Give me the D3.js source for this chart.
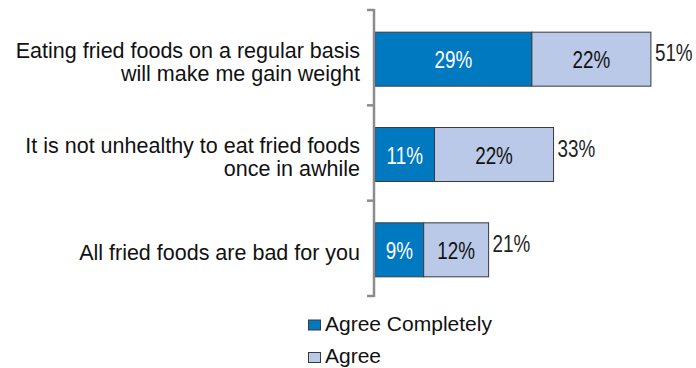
<!DOCTYPE html>
<html>
<head>
<meta charset="utf-8">
<script src="https://cdn.jsdelivr.net/npm/d3@7"></script>
<style>
  html, body { margin: 0; padding: 0; background: #fff; }
  svg { display: block; font-family: "Liberation Sans", Arial, Helvetica, sans-serif; }
</style>
</head>
<body>
<svg id="chart" width="696" height="368"></svg>
<script>
// Survey statements (two-line labels split on "|")
const categories = [
  "Eating fried foods on a regular basis|will make me gain weight",
  "It is not unhealthy to eat fried foods|once in awhile",
  "All fried foods are bad for you"
];
const seriesNames = ["Agree Completely", "Agree"];
const agreeCompletely = [29, 11, 9];
const agree = [22, 22, 12];
const totals = [51, 33, 21];

const colors = ["#0079C1", "#B9C9E7"];
const textColors = ["#ffffff", "#111111"];

const svg = d3.select("#chart");

const axisX = 374;
const x = d3.scaleLinear().domain([0, 100]).range([axisX + 1, axisX + 1 + 541]);
const y = d3.scaleBand().domain(d3.range(categories.length)).range([10, 296]);
const barH = 54;
const barOffset = (y.bandwidth() - barH) / 2 + 1.5;
const numScale = 0.82;   // condensed look for the percentage figures
const numSize = 23;

// stacked layout
const rows = categories.map((c, i) => ({ i, ac: agreeCompletely[i], a: agree[i], total: totals[i] }));
const stack = d3.stack().keys(["ac", "a"]);
const layers = stack(rows);

const g = svg.append("g");
layers.forEach((layer, li) => {
  g.selectAll(null)
    .data(layer)
    .enter()
    .append("rect")
    .attr("x", d => x(d[0]))
    .attr("y", (d, i) => y(i) + barOffset)
    .attr("width", d => x(d[1]) - x(d[0]))
    .attr("height", barH)
    .attr("fill", colors[li])
    .attr("stroke", "#3a3a3a")
    .attr("stroke-width", 1);

  g.selectAll(null)
    .data(layer)
    .enter()
    .append("text")
    .attr("transform", (d, i) =>
      `translate(${(x(d[0]) + x(d[1])) / 2},${y(i) + barOffset + barH / 2 + 1}) scale(${numScale},1)`)
    .attr("dy", "0.36em")
    .attr("text-anchor", "middle")
    .attr("font-size", numSize)
    .attr("fill", textColors[li])
    .text(d => (d[1] - d[0]) + "%");
});

// totals beside each bar
g.selectAll(null)
  .data(rows)
  .enter()
  .append("text")
  .attr("transform", d =>
    `translate(${x(d.total) + 4},${y(d.i) + barOffset + barH / 2 - 6}) scale(${numScale},1)`)
  .attr("dy", "0.36em")
  .attr("font-size", numSize)
  .attr("fill", "#222")
  .text(d => d.total + "%");

// vertical category axis with boundary ticks
const axisG = svg.append("g").attr("stroke", "#8c8c8c").attr("stroke-width", 2.5);
axisG.append("line")
  .attr("x1", axisX).attr("x2", axisX)
  .attr("y1", y.range()[0] - 1).attr("y2", y.range()[1] + 1);
const tickYs = d3.range(categories.length).map(i => y(i)).concat([y.range()[1]]);
axisG.selectAll(null)
  .data(tickYs)
  .enter()
  .append("line")
  .attr("x1", axisX - 7).attr("x2", axisX)
  .attr("y1", d => d).attr("y2", d => d);

// category labels
const labels = svg.append("g");
categories.forEach((c, i) => {
  const lines = c.split("|");
  const cy = y(i) + barOffset + barH / 2 + 2.5;
  const lh = 22.5;
  const t = labels.append("text")
    .attr("text-anchor", "end")
    .attr("font-size", 21.5)
    .attr("fill", "#111");
  lines.forEach((ln, k) => {
    t.append("tspan")
      .attr("x", 360)
      .attr("y", cy + (k - (lines.length - 1) / 2) * lh)
      .attr("dy", "0.36em")
      .text(ln);
  });
});

// legend
const legend = svg.append("g");
seriesNames.forEach((name, i) => {
  const ly = 323 + i * 32.5;
  legend.append("rect")
    .attr("x", 308.5).attr("y", ly - 3)
    .attr("width", 12).attr("height", 10)
    .attr("fill", colors[i])
    .attr("stroke", "#3a3a3a").attr("stroke-width", 1);
  legend.append("text")
    .attr("x", 325).attr("y", ly)
    .attr("dy", "0.36em")
    .attr("font-size", 21)
    .attr("fill", "#111")
    .text(name);
});
</script>
</body>
</html>
